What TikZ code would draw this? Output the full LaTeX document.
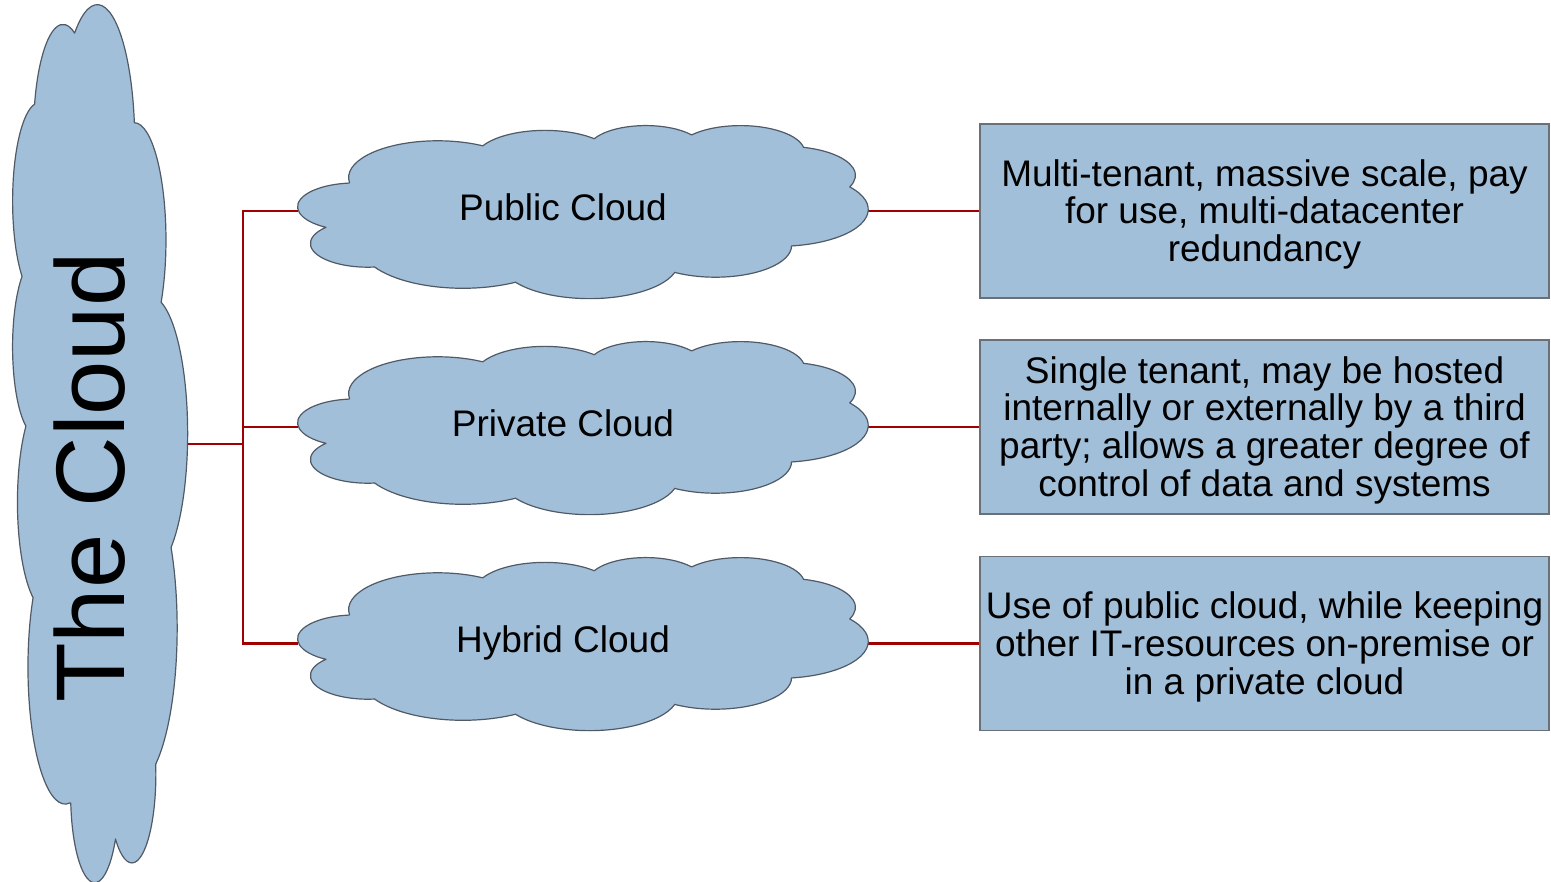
\documentclass[tikz,border=0pt]{standalone}
\usepackage{fontspec}
\setmainfont{Liberation Sans}

\definecolor{cloudfill}{RGB}{161,191,217}
\definecolor{cloudline}{RGB}{80,90,102}
\definecolor{boxline}{RGB}{105,112,120}
\definecolor{linkred}{RGB}{160,0,0}

% Cloud outline: eleven elliptic arcs in a 43.2 x 43.2 box (y pointing down).
% Arc angles are ray angles; they are turned into ellipse parameters here.
\def\cloudpath{(3.9,14.37)}
\newcommand\addcloudarc[4]{%
  \pgfmathsetmacro\cldA{atan2((#1)*sin(#3),(#2)*cos(#3))}%
  \pgfmathsetmacro\cldB{atan2((#1)*sin((#3)+(#4)),(#2)*cos((#3)+(#4)))}%
  \pgfmathsetmacro\cldD{mod((\cldB)-(\cldA)+720,360)}%
  \xdef\cloudpath{\cloudpath arc[x radius=#1,y radius=#2,start angle=\cldA,delta angle=\cldD]}%
}
\addcloudarc{6.753}{9.190}{-190.48748}{123.78053}
\addcloudarc{5.333}{7.267}{-144.10238}{89.94523}
\addcloudarc{4.365}{5.945}{-145.80792}{99.72302}
\addcloudarc{4.857}{6.595}{-130.98607}{117.24173}
\addcloudarc{5.333}{7.273}{-78.70888}{109.02692}
\addcloudarc{6.775}{9.220}{-46.28113}{130.26900}
\addcloudarc{5.785}{7.867}{0.62502}{114.03333}
\addcloudarc{6.752}{9.215}{22.45160}{115.17255}
\addcloudarc{7.720}{10.543}{66.24263}{75.71102}
\addcloudarc{4.360}{5.918}{-274.94208}{146.73557}
\addcloudarc{4.345}{5.945}{-246.82850}{152.51885}
\xdef\cloudpath{\cloudpath -- cycle}

\newcommand\cldlabelfont{\fontsize{18.5pt}{18.9pt}\selectfont}
\newcommand\cldbigfont{\fontsize{48.8pt}{50pt}\selectfont}
% full ascent / descent struts, so a block of lines is centred as whole line boxes
\newcommand\lineup{\rule{0pt}{0.905em}}
\newcommand\linedown{\rule[-0.212em]{0pt}{0pt}}

\tikzset{
  cloudshape/.style={fill=cloudfill, draw=cloudline, line width=0.6pt, line join=round},
  infobox/.style={rectangle, fill=cloudfill, draw=boxline, line width=0.75pt,
    minimum width=284.5pt, minimum height=87pt, inner sep=0pt, align=center,
    font=\cldlabelfont},
  cloudlabel/.style={anchor=base, font=\cldlabelfont},
  connector/.style={draw=linkred, line width=1.15pt},
}

\begin{document}
\begin{tikzpicture}[x=0.5pt, y=-0.5pt]
\useasboundingbox (0,0) rectangle (1551,882);

% description boxes
\node[infobox] (pubbox) at (1264.5,211)
  {\lineup Multi-tenant, massive scale, pay\\for use, multi-datacenter\\redundancy\linedown};
\node[infobox] (privbox) at (1264.5,427)
  {\lineup Single tenant, may be hosted\\internally or externally by a third\\party; allows a greater degree of\\control of data and systems\linedown};
\node[infobox] (hybbox) at (1264.5,643.5)
  {\lineup Use of public cloud, while keeping\\other IT-resources on-premise or\\in a private cloud\linedown};

% points where the connectors meet the cloud outlines
\coordinate (big-e) at (187,444);
\coordinate (fork) at (243,444);
\coordinate (pub-w) at (298,211);
\coordinate (pub-e) at (868,211);
\coordinate (priv-w) at (298,427);
\coordinate (priv-e) at (868,427);
\coordinate (hyb-w) at (298,643.5);
\coordinate (hyb-e) at (868,643.5);

% connectors
\draw[connector] (big-e) -- (fork);
\draw[connector] (pub-w) -| (fork) |- (hyb-w);
\draw[connector] (priv-w) -- (priv-w -| fork);
\draw[connector] (pub-e) -- (pubbox.west);
\draw[connector] (priv-e) -- (privbox.west);
\draw[connector] (hyb-e) -- (hybbox.west);

% the tall cloud, standing upright
\begin{scope}[shift={(12,882)}, x={(0pt,10.150pt)}, y={(2.0255pt,0pt)}]
  \path[cloudshape] \cloudpath;
\end{scope}
% the three lying clouds
\begin{scope}[shift={(298,125)}, x={(6.597pt,0pt)}, y={(0pt,-2.0023pt)}]
  \path[cloudshape] \cloudpath;
\end{scope}
\begin{scope}[shift={(298,341)}, x={(6.597pt,0pt)}, y={(0pt,-2.0023pt)}]
  \path[cloudshape] \cloudpath;
\end{scope}
\begin{scope}[shift={(298,557)}, x={(6.597pt,0pt)}, y={(0pt,-2.0023pt)}]
  \path[cloudshape] \cloudpath;
\end{scope}

% labels
\node[rotate=90, anchor=base, font=\cldbigfont] (bigtext) at (124,477.5) {The Cloud};
\node[cloudlabel] (pubtext) at (563,220.5) {Public Cloud};
\node[cloudlabel] (privtext) at (563,436.5) {Private Cloud};
\node[cloudlabel] (hybtext) at (563,652.5) {Hybrid Cloud};
\end{tikzpicture}
\end{document}
